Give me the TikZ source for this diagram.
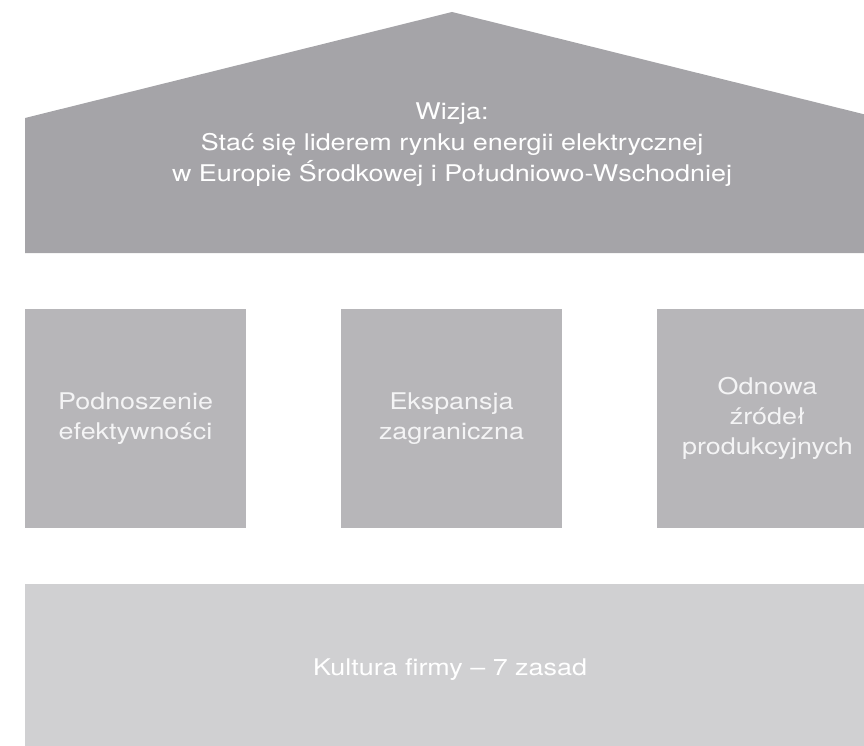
\documentclass[tikz,border=0pt]{standalone}
\usepackage{fontspec}
\setmainfont{TeX Gyre Heros}[FakeStretch=1.17]
\usepackage{tikz}
\usetikzlibrary{positioning}
\definecolor{roofgray}{HTML}{A5A4A8}
\definecolor{pillargray}{HTML}{B7B6B9}
\definecolor{basegray}{HTML}{D0D0D2}
\definecolor{softwhite}{HTML}{F4F4F5}

\begin{document}
\begin{tikzpicture}[x=1pt, y=-1pt,
    every node/.style={font=\fontsize{23}{31}\selectfont, text=white, align=center},
    pillar/.style={rectangle, fill=pillargray, minimum width=221pt, minimum height=219pt, inner sep=0pt, font=\fontsize{23}{30}\selectfont, text=softwhite},
    basebox/.style={rectangle, fill=basegray, minimum width=850pt, minimum height=162pt, inner sep=0pt, text height=26.2pt, text depth=4.8pt}
]
\useasboundingbox (0,0) rectangle (864,746);
% --- Roof ---
\fill[roofgray] (25,253) -- (25,118) -- (452,12) -- (879,118) -- (879,253) -- cycle;
\node (vision) at (452,145) {Wizja:\\Stać się liderem rynku energii elektrycznej\\w Europie Środkowej i Południowo-Wschodniej};

% --- Pillars ---
\node[pillar] (p1) at (135.5,418.5) {Podnoszenie\\efektywności};
\node[pillar] (p2) at (451.5,418.5) {Ekspansja\\zagraniczna};
\node[pillar] (p3) at (767.5,418.5) {Odnowa\\źródeł\\produkcyjnych};

% --- Base ---
\node[basebox] (culture) at (450,665) {Kultura firmy – 7 zasad};
\end{tikzpicture}
\end{document}
